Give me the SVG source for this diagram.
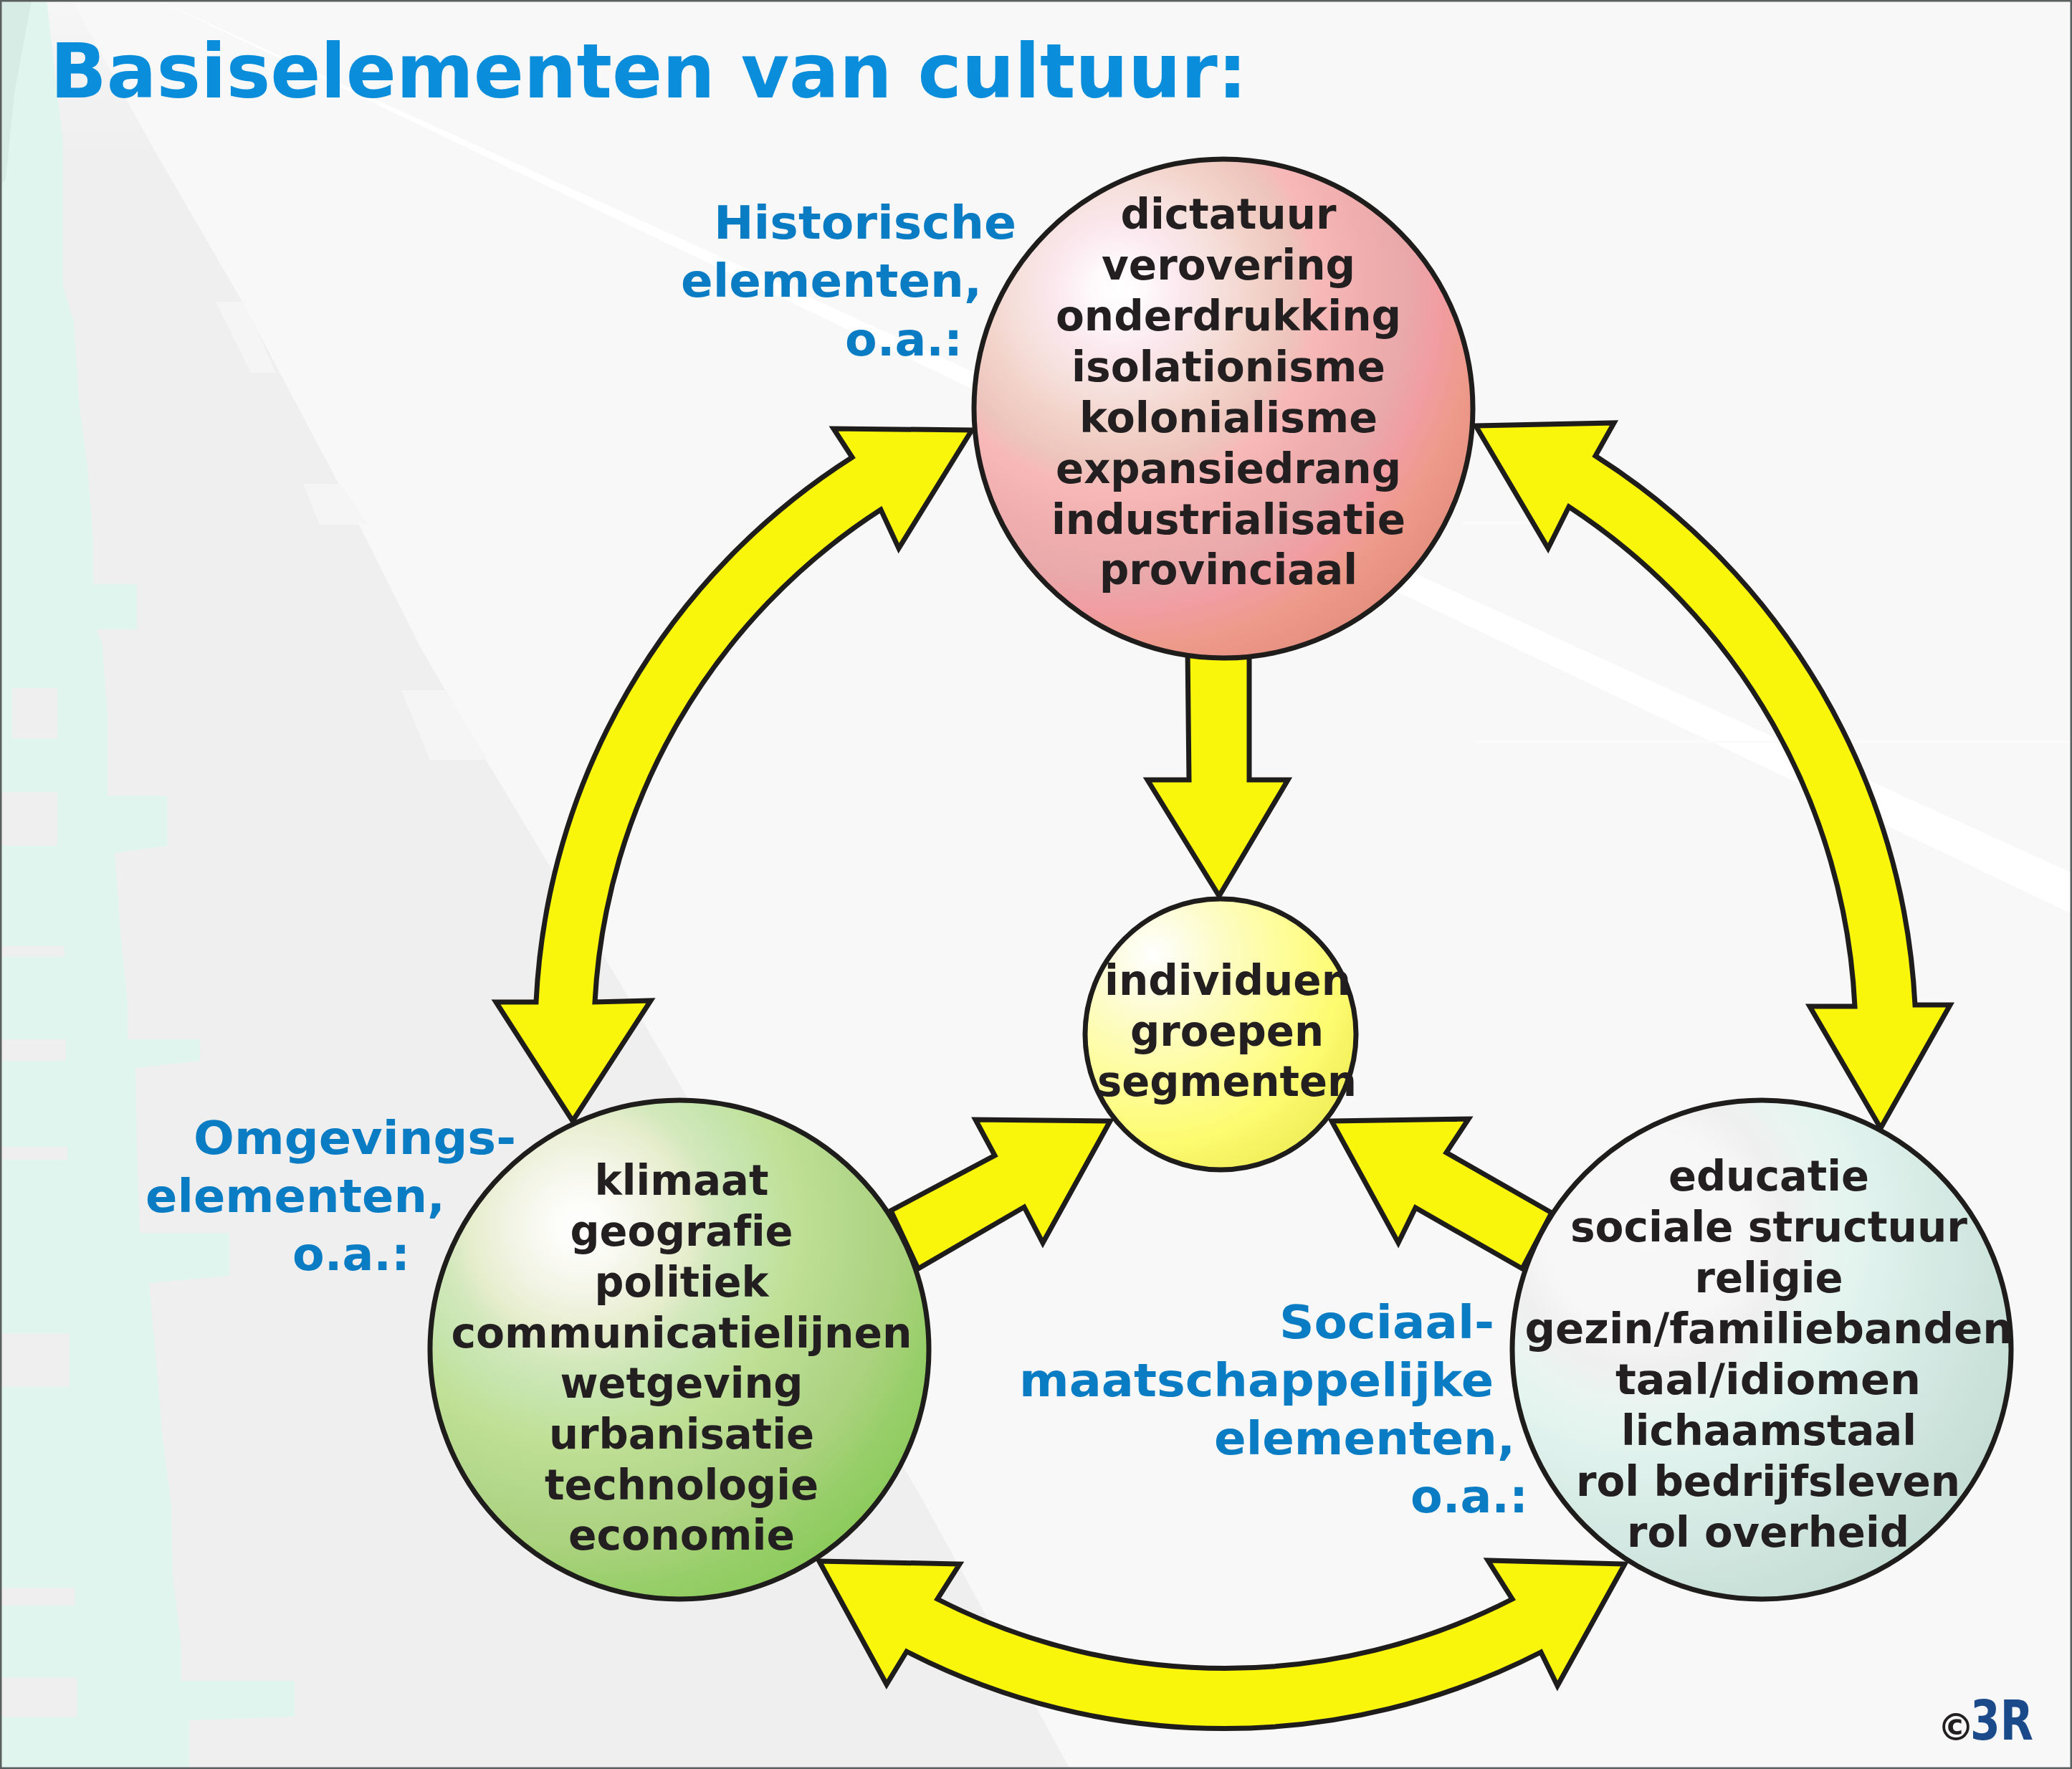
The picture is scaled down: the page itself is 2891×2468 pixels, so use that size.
<svg xmlns="http://www.w3.org/2000/svg" width="2891" height="2468" viewBox="0 0 2891 2468">
<style>
text{font-family:"DejaVu Sans","Liberation Sans",sans-serif;font-weight:700;font-variant-ligatures:none}
.t{font-size:58px;fill:#231f20;text-anchor:middle}
.l{font-size:64px;fill:#0a7cc4;text-anchor:start}
.title{font-size:105px;fill:#0a8ddb}
.ar{fill:#f9f50b;stroke:#1f1c1c;stroke-width:7;stroke-miterlimit:8;stroke-linejoin:miter}
.c{stroke:#1f1c1c;stroke-width:7}
.pocket{fill:#efefef}
.patch{fill:#f5f5f5}
</style>
<defs>
<radialGradient id="gTop" gradientUnits="userSpaceOnUse" cx="1560" cy="405" fx="1560" fy="405" r="590">
<stop offset="0" stop-color="#ffffff"/><stop offset=".06" stop-color="#fefafb"/><stop offset=".15" stop-color="#fbe8ee"/><stop offset=".24" stop-color="#f6e0dc"/><stop offset=".33" stop-color="#f2d2c8"/><stop offset=".42" stop-color="#edc4bc"/><stop offset=".47" stop-color="#f7b9b8"/><stop offset=".58" stop-color="#f1aeae"/><stop offset=".68" stop-color="#e9a9aa"/><stop offset=".76" stop-color="#f19da2"/><stop offset=".85" stop-color="#ee9a8a"/><stop offset="1" stop-color="#e18c7b"/>
</radialGradient>
<radialGradient id="gGreen" gradientUnits="userSpaceOnUse" cx="809" cy="1711" fx="809" fy="1711" r="570">
<stop offset="0" stop-color="#ffffff"/><stop offset=".08" stop-color="#fbfbf6"/><stop offset=".17" stop-color="#f2f4e4"/><stop offset=".27" stop-color="#e6edcc"/><stop offset=".33" stop-color="#d3e8bc"/><stop offset=".42" stop-color="#c6e5ae"/><stop offset=".53" stop-color="#bfe095"/><stop offset=".65" stop-color="#b4d88c"/><stop offset=".78" stop-color="#abd27e"/><stop offset=".9" stop-color="#96ce68"/><stop offset="1" stop-color="#8ccb5c"/>
</radialGradient>
<radialGradient id="gSoc" gradientUnits="userSpaceOnUse" cx="2295" cy="1715" fx="2295" fy="1715" r="585">
<stop offset="0" stop-color="#f8f8f8"/><stop offset=".25" stop-color="#f6f6f6"/><stop offset=".33" stop-color="#efefef"/><stop offset=".42" stop-color="#e9f4f0"/><stop offset=".5" stop-color="#e3f4ef"/><stop offset=".68" stop-color="#d7ebe5"/><stop offset=".85" stop-color="#cce3dc"/><stop offset="1" stop-color="#c4ddd4"/>
</radialGradient>
<radialGradient id="gInd" gradientUnits="userSpaceOnUse" cx="1609" cy="1333" fx="1609" fy="1333" r="335">
<stop offset="0" stop-color="#ffffff"/><stop offset=".12" stop-color="#fdfde8"/><stop offset=".3" stop-color="#fdfcc4"/><stop offset=".55" stop-color="#fefd98"/><stop offset=".78" stop-color="#fdfb70"/><stop offset="1" stop-color="#f0ee58"/>
</radialGradient>
<linearGradient id="gWedge" gradientUnits="userSpaceOnUse" x1="0" y1="0" x2="0" y2="220"><stop offset="0" stop-color="#f6f6f6"/><stop offset="1" stop-color="#efefef"/></linearGradient>
</defs>
<g id="background">
<rect width="2891" height="2468" fill="#f8f8f8"/>
<polygon points="220,0 2891,1218 2891,1275" fill="#ffffff"/>
<polygon points="100,0 214,207 337,419 471,672 585,900 660,1030 893,1418 1286,2090 1493,2468 0,2468 0,0" fill="url(#gWedge)"/>
<polygon class="patch" points="301,421 340,421 385,520 350,520"/>
<polygon class="patch" points="423,675 475,675 513,732 446,732"/>
<polygon class="patch" points="560,963 622,963 680,1060 600,1060"/>
<polygon points="0,0 65,0 88,200 88,400 103,450 111,570 122,650 130,750 130,815 191,815 191,878 135,878 143,900 150,1000 150,1110 233,1110 233,1180 160,1190 168,1300 178,1400 178,1450 279,1450 279,1480 189,1490 191,1600 195,1720 320,1720 320,1780 208,1790 218,1900 226,2000 239,2100 241,2200 253,2300 253,2345 411,2345 411,2395 264,2400 264,2468 0,2468" fill="#dff5ed"/>
<polygon points="0,0 44,0 20,130 8,250 0,260" fill="#d6ece5"/>
<rect class="pocket" x="17" y="960" width="63" height="70"/>
<rect class="pocket" x="2" y="1105" width="78" height="75"/>
<rect class="pocket" x="2" y="1320" width="88" height="15"/>
<rect class="pocket" x="2" y="1450" width="90" height="30"/>
<rect class="pocket" x="2" y="1600" width="92" height="18"/>
<rect class="pocket" x="2" y="1860" width="95" height="75"/>
<rect class="pocket" x="2" y="2215" width="103" height="25"/>
<rect class="pocket" x="2" y="2340" width="105" height="55"/>
<path d="M2060,1035H2891M2040,730H2160" stroke="#fbfbfb" stroke-width="3" fill="none"/>
<rect x="1" y="1" width="2889" height="2466" fill="none" stroke="#5a5f5f" stroke-width="3"/>
</g>
<g id="connectors">
<path id="arrow-hist-omg" class="ar" d="M1356,600 L1163,598 L1189,638 A955,955 0 0 0 748,1398 L692,1398 L799,1564 L908,1396 L830,1398 A873,873 0 0 1 1229,711 L1254,765 Z"/>
<path id="arrow-hist-soc" class="ar" d="M2059,594 L2252,590 L2226,636 A966,966 0 0 1 2672,1402 L2721,1402 L2624,1574 L2525,1404 L2588,1404 A884,884 0 0 0 2189,707 L2160,765 Z"/>
<path id="arrow-omg-soc" class="ar" d="M1143,2178 L1339,2182 L1308,2231 A881,881 0 0 0 2110,2231 L2076,2177 L2267,2182 L2173,2352 L2150,2305 A968,968 0 0 1 1265,2304 L1237,2350 Z"/>
<path id="arrow-hist-ind" class="ar" d="M1657,905 L1743,905 L1743,1088 L1797,1088 L1701,1250 L1601,1088 L1659,1088 Z"/>
<path id="arrow-omg-ind" class="ar" d="M1549,1564 L1361,1562 L1388,1612 L1243,1689 L1281,1770 L1429,1684 L1455,1734 Z"/>
<path id="arrow-soc-ind" class="ar" d="M1858,1564 L2049,1561 L2018,1608 L2165,1692 L2124,1770 L1975,1685 L1951,1734 Z"/>
</g>
<g id="title"><text class="title" x="70" y="136" textLength="1670" lengthAdjust="spacingAndGlyphs">Basiselementen van cultuur:</text></g>
<g id="node-historisch">
<circle class="c" cx="1707" cy="570" r="348" fill="url(#gTop)"/>
<text class="t" x="1714" y="319" textLength="301" lengthAdjust="spacingAndGlyphs">dictatuur</text>
<text class="t" x="1714" y="390" textLength="354" lengthAdjust="spacingAndGlyphs">verovering</text>
<text class="t" x="1714" y="461" textLength="482" lengthAdjust="spacingAndGlyphs">onderdrukking</text>
<text class="t" x="1714" y="532" textLength="438" lengthAdjust="spacingAndGlyphs">isolationisme</text>
<text class="t" x="1714" y="603" textLength="416" lengthAdjust="spacingAndGlyphs">kolonialisme</text>
<text class="t" x="1714" y="674" textLength="482" lengthAdjust="spacingAndGlyphs">expansiedrang</text>
<text class="t" x="1714" y="745" textLength="494" lengthAdjust="spacingAndGlyphs">industrialisatie</text>
<text class="t" x="1714" y="815" textLength="360" lengthAdjust="spacingAndGlyphs">provinciaal</text>
<text class="l" x="996" y="333" textLength="422" lengthAdjust="spacingAndGlyphs">Historische</text>
<text class="l" x="950" y="414" textLength="420" lengthAdjust="spacingAndGlyphs">elementen,</text>
<text class="l" x="1179" y="496" textLength="164" lengthAdjust="spacingAndGlyphs">o.a.:</text>
</g>
<g id="node-individu">
<circle class="c" cx="1703" cy="1443" r="189" fill="url(#gInd)"/>
<text class="t" x="1713" y="1388" textLength="344" lengthAdjust="spacingAndGlyphs">individuen</text>
<text class="t" x="1712" y="1459" textLength="270" lengthAdjust="spacingAndGlyphs">groepen</text>
<text class="t" x="1712" y="1529" textLength="362" lengthAdjust="spacingAndGlyphs">segmenten</text>
</g>
<g id="node-omgeving">
<circle class="c" cx="948" cy="1883" r="348" fill="url(#gGreen)"/>
<text class="t" x="951" y="1667" textLength="243" lengthAdjust="spacingAndGlyphs">klimaat</text>
<text class="t" x="951" y="1738" textLength="311" lengthAdjust="spacingAndGlyphs">geografie</text>
<text class="t" x="951" y="1809" textLength="243" lengthAdjust="spacingAndGlyphs">politiek</text>
<text class="t" x="951" y="1880" textLength="643" lengthAdjust="spacingAndGlyphs">communicatielijnen</text>
<text class="t" x="951" y="1950" textLength="339" lengthAdjust="spacingAndGlyphs">wetgeving</text>
<text class="t" x="951" y="2021" textLength="370" lengthAdjust="spacingAndGlyphs">urbanisatie</text>
<text class="t" x="951" y="2092" textLength="382" lengthAdjust="spacingAndGlyphs">technologie</text>
<text class="t" x="951" y="2162" textLength="316" lengthAdjust="spacingAndGlyphs">economie</text>
<text class="l" x="270" y="1610" textLength="450" lengthAdjust="spacingAndGlyphs">Omgevings-</text>
<text class="l" x="203" y="1691" textLength="418" lengthAdjust="spacingAndGlyphs">elementen,</text>
<text class="l" x="408" y="1772" textLength="164" lengthAdjust="spacingAndGlyphs">o.a.:</text>
</g>
<g id="node-sociaal">
<circle class="c" cx="2458" cy="1883" r="348" fill="url(#gSoc)"/>
<text class="t" x="2468" y="1661" textLength="280" lengthAdjust="spacingAndGlyphs">educatie</text>
<text class="t" x="2468" y="1732" textLength="554" lengthAdjust="spacingAndGlyphs">sociale structuur</text>
<text class="t" x="2468" y="1803" textLength="207" lengthAdjust="spacingAndGlyphs">religie</text>
<text class="t" x="2468" y="1874" textLength="681" lengthAdjust="spacingAndGlyphs">gezin/familiebanden</text>
<text class="t" x="2467" y="1945" textLength="426" lengthAdjust="spacingAndGlyphs">taal/idiomen</text>
<text class="t" x="2468" y="2016" textLength="412" lengthAdjust="spacingAndGlyphs">lichaamstaal</text>
<text class="t" x="2467" y="2087" textLength="536" lengthAdjust="spacingAndGlyphs">rol bedrijfsleven</text>
<text class="t" x="2467" y="2158" textLength="394" lengthAdjust="spacingAndGlyphs">rol overheid</text>
<text class="l" x="1785" y="1867" textLength="300" lengthAdjust="spacingAndGlyphs">Sociaal-</text>
<text class="l" x="1422" y="1948" textLength="662" lengthAdjust="spacingAndGlyphs">maatschappelijke</text>
<text class="l" x="1694" y="2029" textLength="420" lengthAdjust="spacingAndGlyphs">elementen,</text>
<text class="l" x="1968" y="2110" textLength="164" lengthAdjust="spacingAndGlyphs">o.a.:</text>
</g>
<g id="logo">
<text x="2703" y="2428" font-size="52" fill="#231f20">©</text>
<text x="2749" y="2427" font-size="77" fill="#1a4a8a" textLength="88" lengthAdjust="spacingAndGlyphs">3R</text>
</g>
</svg>
